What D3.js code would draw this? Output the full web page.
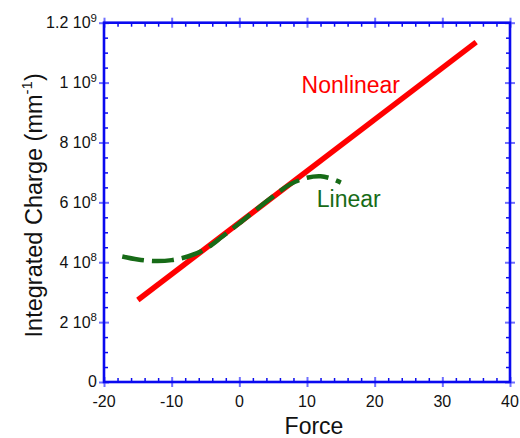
<!DOCTYPE html>
<html>
<head>
<meta charset="utf-8">
<script src="https://cdn.jsdelivr.net/npm/d3@7"></script>
<style>
  body { margin: 0; background: #fff; }
  svg { display: block; font-family: "Liberation Sans", Arial, sans-serif; }
</style>
</head>
<body>
<div id="chart"></div>
<script>
// data
const nonlinearForce = [-15, 35];
const nonlinearCharge = [2.74e8, 1.135e9];

const linearForce = [-17.3, -15, -12.5, -10, -7.5, -5, -2.5, 0, 2.5, 5, 7.5, 10, 12, 13.5, 15];
const linearCharge = [4.19e8, 4.09e8, 4.04e8, 4.07e8, 4.2e8, 4.44e8, 4.86e8, 5.3e8, 5.76e8, 6.2e8, 6.6e8, 6.82e8, 6.87e8, 6.8e8, 6.66e8];

const xTicks = [-20, -10, 0, 10, 20, 30, 40];
const yTicks = [0, 2e8, 4e8, 6e8, 8e8, 1e9, 1.2e9];
const yTickLabels = [["0", ""], ["2 10", "8"], ["4 10", "8"], ["6 10", "8"], ["8 10", "8"], ["1 10", "9"], ["1.2 10", "9"]];

const width = 520, height = 438;
const margin = { top: 22.7, right: 10, bottom: 56, left: 104 };
const innerW = width - margin.left - margin.right;
const innerH = height - margin.top - margin.bottom;

const svg = d3.select("#chart")
  .append("svg")
  .attr("width", width)
  .attr("height", height);

const g = svg.append("g")
  .attr("transform", `translate(${margin.left},${margin.top})`);

const x = d3.scaleLinear().domain([-20, 40]).range([0, innerW]);
const y = d3.scaleLinear().domain([0, 1.2e9]).range([innerH, 0]);

const xMinor = d3.range(-20, 40.01, 2).filter(v => !xTicks.includes(v));
const yMinor = d3.range(0, 1.2e9 + 1, 5e7).filter(v => !yTicks.some(t => Math.abs(t - v) < 1));

const frameBlue = "#0a0af0";
const majorBlue = "#6f6fff";

// ticks (no labels) on all four sides
function tickLayer(axis, transform, color, w) {
  const a = g.append("g").attr("transform", transform).call(axis);
  a.select(".domain").remove();
  a.selectAll("text").remove();
  a.selectAll("line").attr("stroke", color).attr("stroke-width", w);
  return a;
}

const sides = [
  [d3.axisBottom, x, `translate(0,${innerH})`, xTicks, xMinor],
  [d3.axisTop, x, "translate(0,0)", xTicks, xMinor],
  [d3.axisLeft, y, "translate(0,0)", yTicks, yMinor],
  [d3.axisRight, y, `translate(${innerW},0)`, yTicks, yMinor]
];
sides.forEach(([ax, sc, tr, maj, min]) => {
  tickLayer(ax(sc).tickValues(min).tickSize(-4), tr, frameBlue, 1.5);
  tickLayer(ax(sc).tickValues(maj).tickSize(5), tr, majorBlue, 2);
  tickLayer(ax(sc).tickValues(maj).tickSize(-5), tr, majorBlue, 2);
});

// frame
g.append("rect")
  .attr("x", 0).attr("y", 0)
  .attr("width", innerW).attr("height", innerH)
  .attr("fill", "none")
  .attr("stroke", frameBlue)
  .attr("stroke-width", 2.6);

// x tick labels
g.append("g")
  .selectAll("text")
  .data(xTicks)
  .join("text")
  .attr("x", d => x(d))
  .attr("y", innerH + 25)
  .attr("text-anchor", "middle")
  .attr("font-size", 16)
  .attr("fill", "#111")
  .text(d => d);

// y tick labels with superscript exponent
const yl = g.append("g")
  .selectAll("text")
  .data(yTicks)
  .join("text")
  .attr("x", -7)
  .attr("y", d => y(d) + 5.5)
  .attr("text-anchor", "end")
  .attr("font-size", 16)
  .attr("fill", "#111");
yl.each(function(d, i) {
  const t = d3.select(this);
  const [base, exp] = yTickLabels[i];
  t.append("tspan").text(base);
  if (exp) t.append("tspan").attr("dy", -6.5).attr("font-size", 11.5).text(exp);
});

// axis titles
g.append("text")
  .attr("x", innerW / 2 + 7)
  .attr("y", innerH + 52)
  .attr("text-anchor", "middle")
  .attr("font-size", 23)
  .attr("fill", "#111")
  .text("Force");

const yt = g.append("text")
  .attr("transform", `translate(${42 - margin.left},${innerH / 2 + 3}) rotate(-90)`)
  .attr("text-anchor", "middle")
  .attr("font-size", 23.5)
  .attr("fill", "#111");
yt.append("tspan").text("Integrated Charge (mm");
yt.append("tspan").attr("dy", -10).attr("font-size", 15).text("-1");
yt.append("tspan").attr("dy", 10).text(")");

// lines
const line = d3.line()
  .x(d => x(d[0]))
  .y(d => y(d[1]));

g.append("path")
  .datum(nonlinearForce.map((f, i) => [f, nonlinearCharge[i]]))
  .attr("fill", "none")
  .attr("stroke", "#ff0000")
  .attr("stroke-width", 5.5)
  .attr("d", line);

g.append("path")
  .datum(linearForce.map((f, i) => [f, linearCharge[i]]))
  .attr("fill", "none")
  .attr("stroke", "#176b17")
  .attr("stroke-width", 4.5)
  .attr("stroke-dasharray", "22,8")
  .attr("d", line.curve(d3.curveCatmullRom));

// series labels
g.append("text")
  .attr("x", x(9.2))
  .attr("y", y(9.66e8))
  .attr("font-size", 23)
  .attr("fill", "#ff0000")
  .text("Nonlinear");

g.append("text")
  .attr("x", x(11.45))
  .attr("y", y(5.86e8))
  .attr("font-size", 23)
  .attr("fill", "#176b17")
  .text("Linear");
</script>
</body>
</html>
